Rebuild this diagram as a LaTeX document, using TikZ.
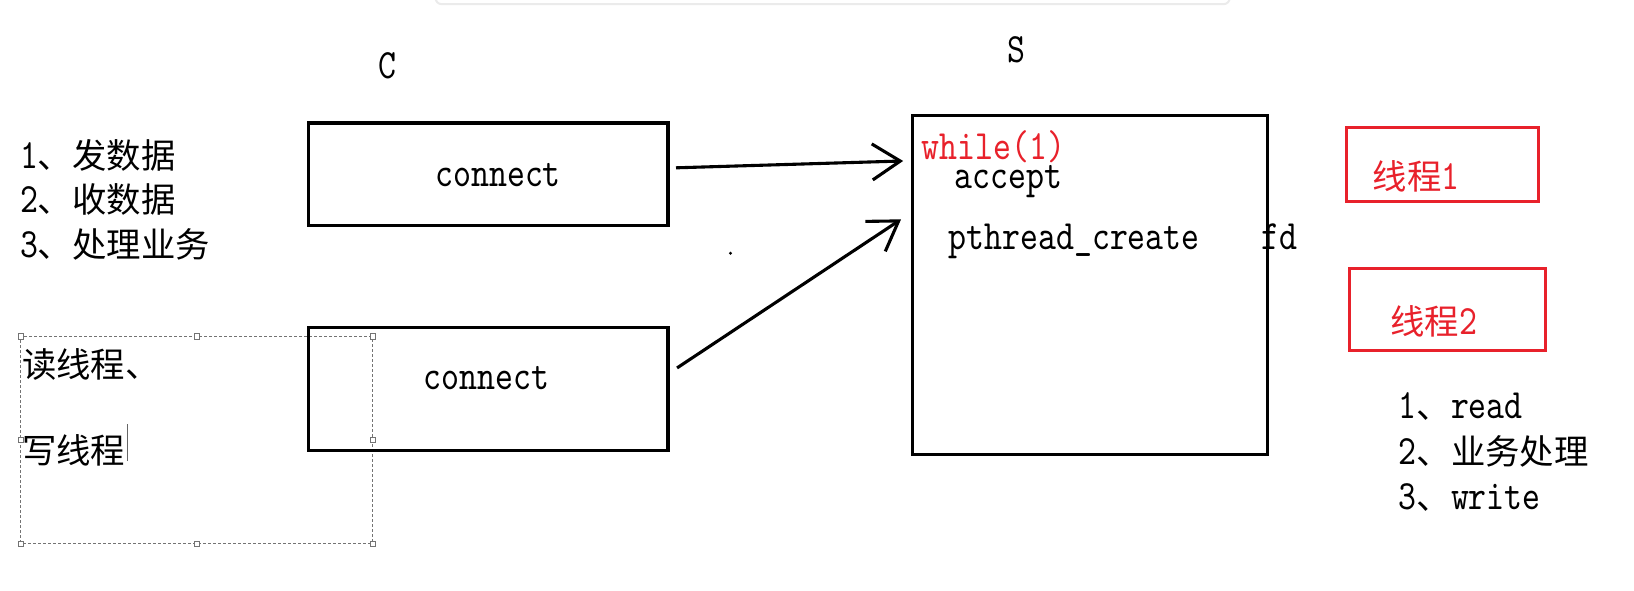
\documentclass[tikz,border=0pt]{standalone}
\usepackage{fontspec}
\usepackage{xcolor}
\setmainfont{lmmono10-regular.otf}[FakeStretch=0.82]
\newfontfamily\cjk{Noto Sans CJK SC}
\usetikzlibrary{arrows.meta}
\definecolor{inkred}{HTML}{E8212B}
\newcommand{\zhtext}[1]{{\cjk\fontsize{33}{40}\selectfont #1}}
\tikzset{
    plain-text/.style = {inner sep=0pt, anchor=base west, font=\fontsize{40}{48}\selectfont},
    plain-box/.style = {draw=black, line width=3.1pt, rectangle, inner sep=0pt},
    thread-box/.style = {draw=inkred, line width=3.1pt, rectangle, inner sep=0pt},
    note-box/.style = {draw=black!55, line width=0.7pt, dash pattern=on 3pt off 2pt, rectangle, inner sep=0pt},
    handle/.style = {draw=black!55, fill=white, line width=0.6pt, rectangle, inner sep=0pt, minimum size=5pt},
    arrow-line/.style = {line width=3.1pt, -{Straight Barb[length=28pt,width=36pt]}},
}
\begin{document}
\begin{tikzpicture}[x=1pt, y=-1pt, scale=1.0421, every node/.append style={transform shape}]
\useasboundingbox (0,0) rectangle (1568,567);
% window shadow at the top
\draw[draw=black!8, line width=2pt, fill=white, rounded corners=6pt] (418,-12) rectangle (1180,4);

% client side
\node[plain-text, anchor=base] (client) at (372,75) {C};
\node[plain-text] (task1) at (19,162) {1\zhtext{、发数据}};
\node[plain-text] (task2) at (19,204) {2\zhtext{、收数据}};
\node[plain-text] (task3) at (19,247) {3\zhtext{、处理业务}};

\node[note-box, minimum width=337pt, minimum height=198pt] (note) at (188.5,422) {};
\foreach \a in {north west, north, north east, east, south east, south, south west, west}
    \node[handle] at (note.\a) {};
\node[plain-text] (rthread) at (21,362) {\zhtext{读线程、}};
\node[plain-text] (wthread) at (21,445) {\zhtext{写线程}};
\draw[black!60, line width=0.8pt] ([xshift=2pt,yshift=-10pt]wthread.east) -- ([xshift=2pt,yshift=26pt]wthread.east);

\node[plain-box, minimum width=345pt, minimum height=98pt] (conn1) at (468.5,167) {};
\node[plain-text, anchor=base] (conn1-text) at (478,179) {connect};
\node[plain-box, minimum width=345pt, minimum height=118pt] (conn2) at (468.5,373) {};
\node[plain-text, anchor=base] (conn2-text) at (467,374) {connect};

\fill (701,243) circle (1.6);

% server side
\node[plain-text, anchor=base] (server-label) at (975,60) {S};
\node[plain-box, minimum width=340pt, minimum height=325pt] (server) at (1046,273.5) {};
\node[plain-text, text=inkred] (loop) at (884,153) {while(1)};
\node[plain-text] (accept) at (916,181) {accept};
\node[plain-text] (create) at (910,239) {pthread\_create};
\node[plain-text] (fd) at (1210,239) {fd};

\draw[arrow-line] ([xshift=6pt,yshift=6pt]conn1.east) -- ([xshift=-8pt,yshift=-45pt]server.north west);
\draw[arrow-line] ([xshift=7pt,yshift=20pt]conn2.east) -- ([xshift=-10pt,yshift=-101pt]server.north west);

% threads
\node[thread-box, minimum width=184pt, minimum height=71pt] (thread1) at (1384,157.5) {};
\node[plain-text, text=inkred] (thread1-text) at (1317,182) {\zhtext{线程}1};
\node[thread-box, minimum width=188pt, minimum height=78pt] (thread2) at (1389,297) {};
\node[plain-text, text=inkred] (thread2-text) at (1334,321) {\zhtext{线程}2};

\node[plain-text] (step1) at (1342,402) {1\zhtext{、}read};
\node[plain-text] (step2) at (1342,446) {2\zhtext{、业务处理}};
\node[plain-text] (step3) at (1342,489) {3\zhtext{、}write};
\end{tikzpicture}
\end{document}
